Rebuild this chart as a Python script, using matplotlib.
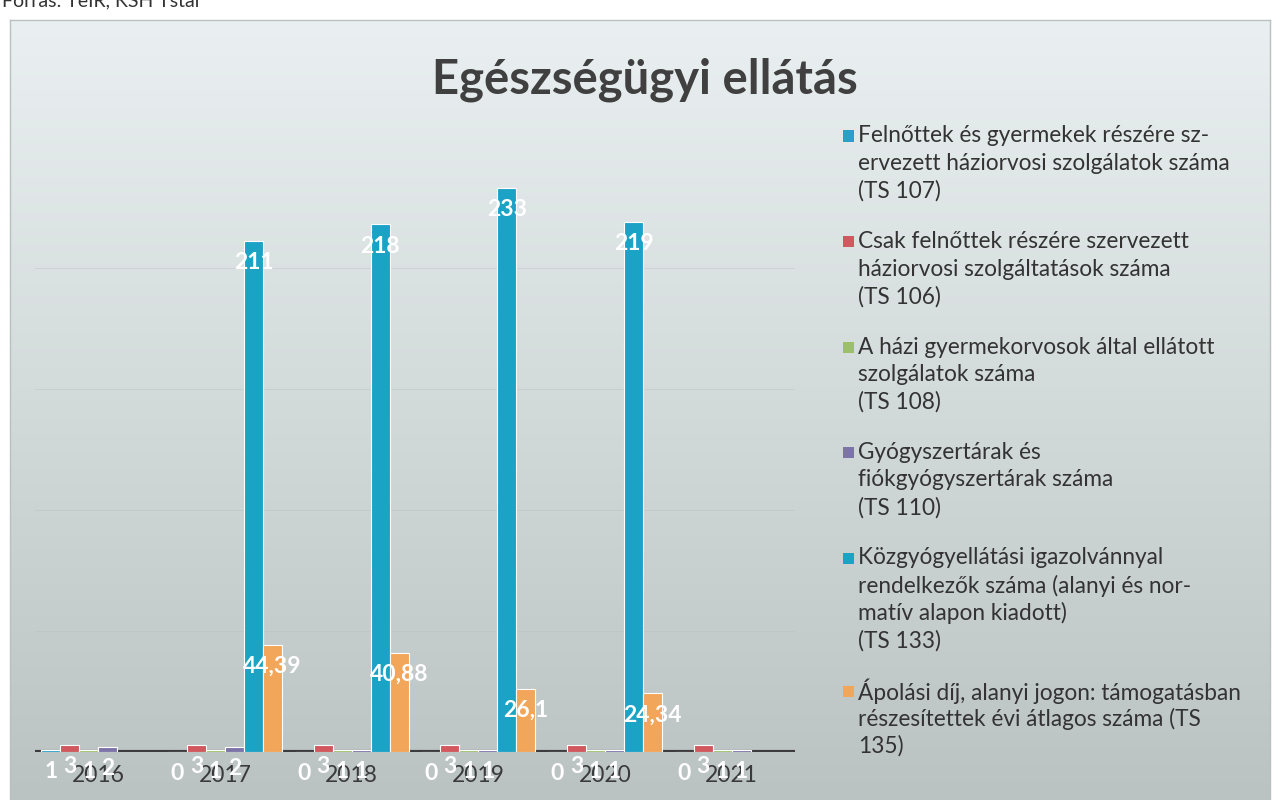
import numpy as np
import matplotlib
matplotlib.use("Agg")
import matplotlib.pyplot as plt
from matplotlib.patches import Rectangle

plt.rcParams['font.family'] = ['Lato', 'DejaVu Sans']

years = ['2016', '2017', '2018', '2019', '2020', '2021']

# TS 107, 106, 108, 110, 133, 135
ts107 = [1, 0, 0, 0, 0, 0]
ts106 = [3, 3, 3, 3, 3, 3]
ts108 = [1, 1, 1, 1, 1, 1]
ts110 = [2, 2, 1, 1, 1, 1]
ts133 = [np.nan, 211, 218, 233, 219, np.nan]
ts135 = [np.nan, 44.39, 40.88, 26.1, 24.34, np.nan]

series_names = [
    "Felnőttek és gyermekek részére sz-\nervezett háziorvosi szolgálatok száma\n(TS 107)",
    "Csak felnőttek részére szervezett\nháziorvosi szolgáltatások száma\n(TS 106)",
    "A házi gyermekorvosok által ellátott\nszolgálatok száma\n(TS 108)",
    "Gyógyszertárak és\nfiókgyógyszertárak száma\n(TS 110)",
    "Közgyógyellátási igazolvánnyal\nrendelkezők száma (alanyi és nor-\nmatív alapon kiadott)\n(TS 133)",
    "Ápolási díj, alanyi jogon: támogatásban\nrészesítettek évi átlagos száma (TS\n135)",
]
colors = ['#2a9fc8', '#d0585e', '#9cc06a', '#7c74a8', '#1ba3c6', '#f2a65a']
all_series = [ts107, ts106, ts108, ts110, ts133, ts135]

W, H = 1282, 800
fig = plt.figure(figsize=(W / 100, H / 100), dpi=100)
fig.patch.set_facecolor('white')

# chart box background (scanned gradient)
bg = fig.add_axes([10 / W, 0, 1260 / W, 780 / H], zorder=0)
top_c = np.array([0xea, 0xf0, 0xf1]) / 255
bot_c = np.array([0xbb, 0xc3, 0xc2]) / 255
t = np.linspace(0, 1, 256)[:, None]
grad = top_c[None, None, :] * (1 - t[..., None]) + bot_c[None, None, :] * t[..., None]
grad = np.repeat(grad, 2, axis=1)
bg.imshow(grad, aspect='auto', extent=[0, 1, 0, 1])
bg.set_xticks([])
bg.set_yticks([])
for s in bg.spines.values():
    s.set_edgecolor('#b8c0c0')
    s.set_linewidth(1)

ax = fig.add_axes([35 / W, 48 / H, 760 / W, 605 / H], zorder=2)
ax.patch.set_alpha(0)
ax.set_xlim(-0.5, 5.5)
ax.set_ylim(0, 250)

for yv in [50, 100, 150, 200]:
    ax.axhline(yv, color='#b0baba', lw=0.7, alpha=0.35, zorder=0)
ax.axhline(0, color='#3c3c3c', lw=3, zorder=1)

x = np.arange(len(years))
w = 0.15
for i, (vals, c) in enumerate(zip(all_series, colors)):
    xs = x + (i - 2.5) * w
    v = np.array(vals, dtype=float)
    ax.bar(xs, v, width=w, color=c, edgecolor='white', linewidth=0.8, zorder=2)
    for xi, vi in zip(xs, v):
        if np.isnan(vi):
            continue
        lab = f"{vi:g}".replace('.', ',')
        ax.annotate(lab, (xi, vi), xytext=(0, -8), textcoords='offset points',
                    ha='center', va='top', color='white', fontsize=16.5,
                    fontweight='bold', zorder=4)

ax.set_xticks(x)
ax.set_xticklabels(years, fontsize=16.5, color='#3a3a3a')
ax.tick_params(axis='x', length=0, pad=9)
ax.set_yticks([])
for s in ax.spines.values():
    s.set_visible(False)

fig.text(645 / W, 1 - 80 / H, "Egészségügyi ellátás", ha='center', va='center',
         fontsize=34, fontweight='bold', color='#404040')

fig.text(2 / W, 1 - 1 / H, "Forrás: TeIR, KSH Tstar", ha='left', va='center',
         fontsize=14, color='#333333')

# legend
line_h = 27.5
y0 = 136
for name, c in zip(series_names, colors):
    n = name.count('\n') + 1
    fig.patches.append(Rectangle((843 / W, 1 - (y0 + 5.5) / H), 11 / W, 11 / H,
                                 transform=fig.transFigure, facecolor=c,
                                 edgecolor='none', zorder=5))
    for k, line in enumerate(name.split('\n')):
        fig.text(858 / W, 1 - (y0 + k * line_h) / H, line, ha='left', va='center',
                 fontsize=16.3, color='#333333', zorder=5)
    y0 += n * line_h + 23

fig.savefig('out.png', dpi=100)
